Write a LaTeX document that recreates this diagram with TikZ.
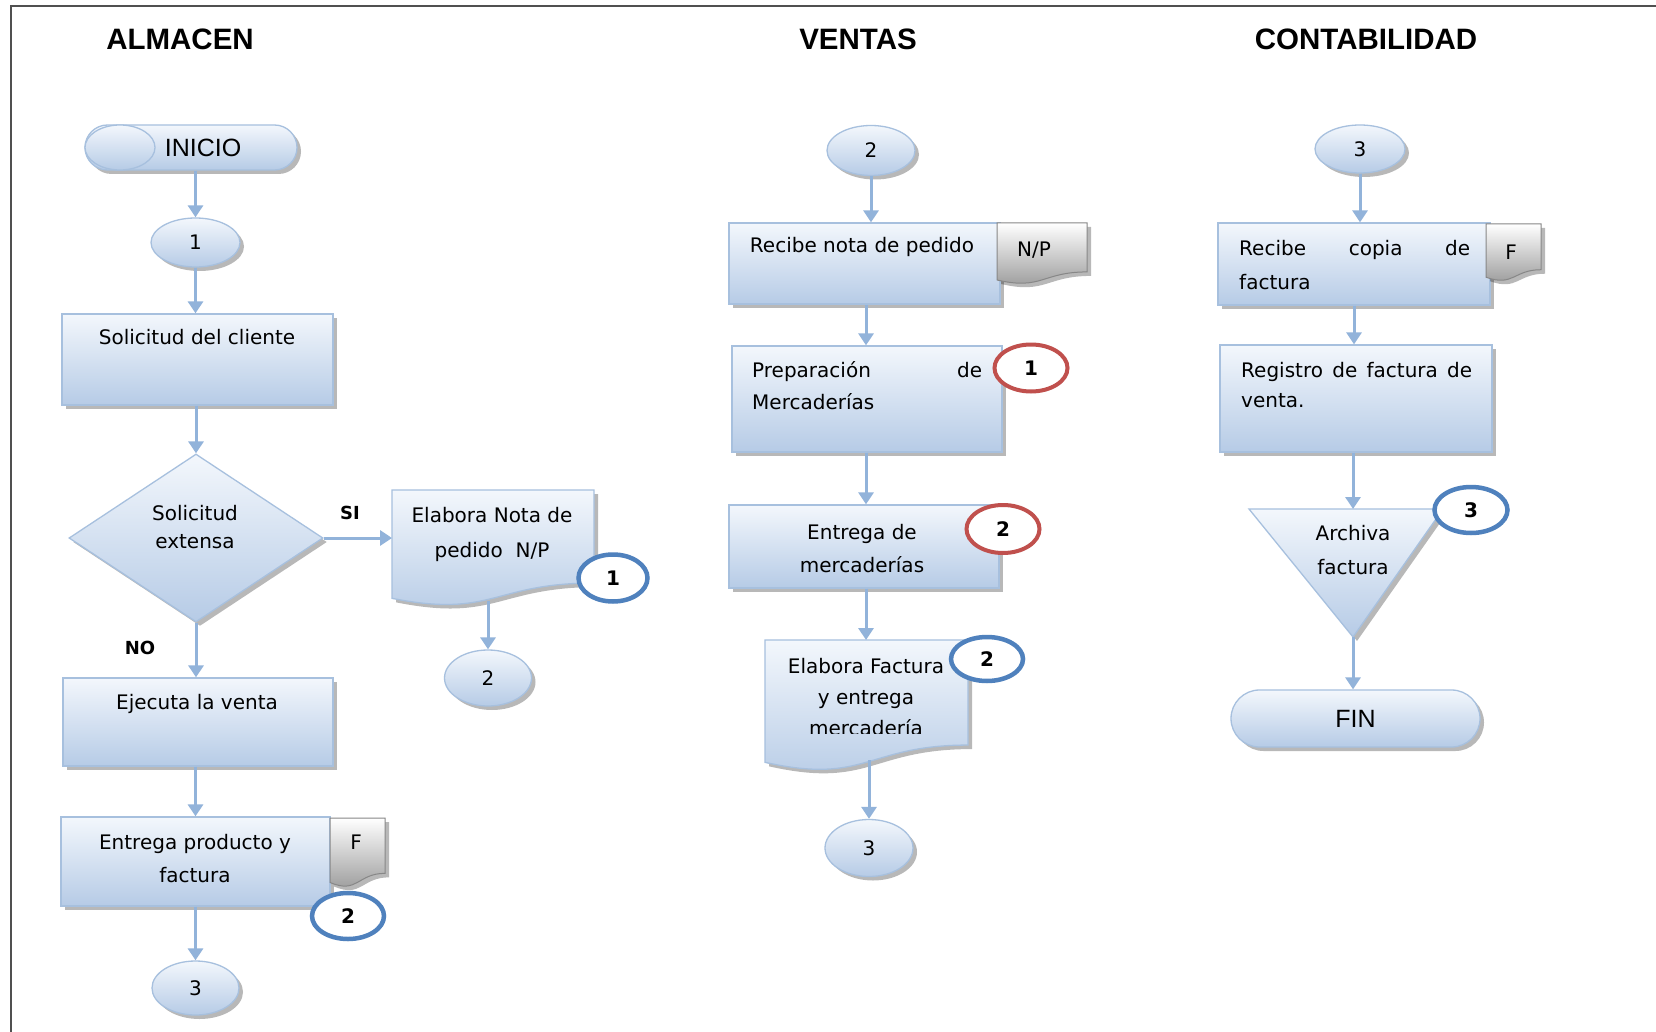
\documentclass[tikz,border=0pt]{standalone}
\usepackage{fontspec}
\setmainfont{DejaVu Sans}
\newfontfamily\arialf{Liberation Sans}
\usetikzlibrary{shapes.geometric,shapes.misc,shadows,arrows.meta}

\definecolor{arrowc}{RGB}{146,179,218}
\definecolor{boxline}{RGB}{167,192,222}
\definecolor{boxtop}{RGB}{243,247,252}
\definecolor{boxbot}{RGB}{182,203,230}
\definecolor{bluec}{RGB}{79,129,189}
\definecolor{redc}{RGB}{192,80,77}
\definecolor{framec}{RGB}{80,80,80}
\definecolor{docline}{RGB}{135,135,135}
\definecolor{docbot}{RGB}{150,150,150}

\newcommand\bodyf[1][32]{\fontsize{20}{#1}\selectfont}
\newcommand\tst{\rule{0pt}{17pt}}
\newcommand\docshape[5]{%
  \path[#5] (#1,#2) -- (#3,#2) -- (#3,{#2+0.802*#4})
    .. controls ({(#1+#3)/2},{#2+0.802*#4}) and ({(#1+#3)/2},{#2+1.107*#4}) .. (#1,{#2+0.934*#4}) -- cycle;}

\tikzset{
  shd/.style={drop shadow={shadow xshift=4pt,shadow yshift=-4pt,fill=black,opacity=0.28}},
  fillb/.style={draw=boxline, line width=1.3pt, top color=boxtop, bottom color=boxbot},
  procbox/.style={rectangle, fillb, shd, inner sep=0pt},
  conn/.style={ellipse, fillb, shd, inner sep=0pt, font=\fontsize{20}{24}\selectfont},
  term/.style={rounded rectangle, fillb, shd, inner sep=0pt},
  docbox/.style={draw=docline, line width=1pt, top color=white, bottom color=docbot, shd},
  refblue/.style={ellipse, draw=bluec, line width=4.5pt, fill=white, inner sep=0pt, font=\bfseries\fontsize{20}{24}\selectfont},
  refred/.style={refblue, draw=redc, line width=4pt},
  arr/.style={draw=arrowc, line width=3pt, -{Triangle[width=15pt,length=12pt]}},
  txt/.style={inner sep=0pt, anchor=north, align=center, font=\bodyf},
  ltxt/.style={inner sep=0pt, anchor=north west, align=left, font=\bodyf},
  ttl/.style={inner sep=0pt, font=\arialf\bfseries\fontsize{29.5}{34}\selectfont},
  yn/.style={inner sep=0pt, font=\bfseries\fontsize{18}{22}\selectfont},
  lbl/.style={inner sep=0pt, font=\bodyf},
}

\begin{document}
\begin{tikzpicture}[x=1pt,y=-1pt]
\useasboundingbox (0,0) rectangle (1656,1032);
\fill[white] (0,0) rectangle (1656,1032);
\draw[framec, line width=2pt] (1656,6) -- (11,6) -- (11,1032);

% titles
\node[ttl] (t-alm) at (180,39) {ALMACEN};
\node[ttl] (t-ven) at (858,39) {VENTAS};
\node[ttl] (t-con) at (1366,39) {CONTABILIDAD};

% ---------------- ALMACEN
\node[term, minimum width=212pt, minimum height=45pt] (inicio) at (191,147.5) {};
\path[fillb] (120,147.5) ellipse [x radius=35pt, y radius=22.5pt];
\node[inner sep=0pt, font=\arialf\fontsize{25}{30}\selectfont] (inicio-t) at (203,147.5) {INICIO};

\node[conn, minimum width=89pt, minimum height=49pt] (c1) at (195.5,242.5) {1};
\node[procbox, minimum width=271pt, minimum height=91pt] (sol) at (197.5,359.5) {};
\node[txt] (sol-t) at (197,327) {\tst Solicitud del cliente};

\node[diamond, fillb, shd, inner sep=0pt, minimum width=254pt, minimum height=168pt] (dia) at (196,538) {};
\node[txt, font={\bodyf[28]}] (dia-t) at (195,503) {\tst Solicitud\\extensa};
\node[yn] (si) at (350,513) {SI};
\node[yn] (no) at (140,648) {NO};

\docshape{392}{490}{594}{116}{fillb,shd}
\coordinate (ela1-w) at (392,535);
\coordinate (ela1-s) at (488,601);
\node[txt, font={\bodyf[35]}] (ela1-t) at (492,505) {\tst Elabora Nota de\\pedido\ \ N/P};
\node[refblue, minimum width=69pt, minimum height=47pt] (b1) at (613,578) {1};
\node[conn, minimum width=87pt, minimum height=56pt] (c2a) at (488,678) {2};

\node[procbox, minimum width=270pt, minimum height=88pt] (eje) at (198,722) {};
\node[txt] (eje-t) at (197,692) {\tst Ejecuta la venta};

\node[procbox, minimum width=269pt, minimum height=89pt] (ent) at (195.5,861.5) {};
\node[txt, font={\bodyf[33]}] (ent-t) at (195,832) {\tst Entrega producto y\\factura};
\docshape{330}{818}{385}{69}{docbox}
\node[lbl] (f1) at (356,842) {F};
\node[refblue, minimum width=72pt, minimum height=46pt] (b2) at (348,916) {2};
\node[conn, minimum width=87pt, minimum height=54pt] (c3a) at (195.5,988) {3};

% ---------------- VENTAS
\node[conn, minimum width=88pt, minimum height=50pt] (c2v) at (871,150.5) {2};
\node[procbox, minimum width=271pt, minimum height=81pt] (rec) at (864.5,263.5) {};
\node[txt] (rec-t) at (862,235) {\tst Recibe nota de pedido};
\docshape{997}{223}{1087}{61}{docbox}
\node[lbl] (np) at (1034,250) {N/P};

\node[procbox, minimum width=270pt, minimum height=106pt] (prep) at (867,399) {};
\node[ltxt, font={\bodyf[32]}] (prep-t) at (752,360) {\hbox to 230pt{\tst Preparación\hfill de}\\Mercaderías};
\node[refred, minimum width=73pt, minimum height=47pt] (r1) at (1031,368) {1};

\node[procbox, minimum width=270pt, minimum height=83pt] (entm) at (864,546.5) {};
\node[txt, font={\bodyf[33]}] (entm-t) at (862,522) {\tst Entrega de\\mercaderías};
\node[refred, minimum width=73pt, minimum height=48pt] (r2) at (1003,529) {2};

\docshape{765}{640}{968}{131}{fillb,shd}
\coordinate (elaf-n) at (866,640);
\coordinate (elaf-s) at (869,760);
\begin{scope}
\clip (760,640) rectangle (975,733);
\node[txt, font={\bodyf[31]}] (elaf-t) at (866,656) {\tst Elabora Factura\\y entrega\\mercadería};
\end{scope}
\node[refblue, minimum width=72pt, minimum height=44pt] (b2v) at (987,659) {2};
\node[conn, minimum width=88pt, minimum height=57pt] (c3v) at (869,848) {3};

% ---------------- CONTABILIDAD
\node[conn, minimum width=90pt, minimum height=48pt] (c3c) at (1360,149) {3};
\node[procbox, minimum width=272pt, minimum height=82pt] (rcp) at (1354,264) {};
\node[ltxt, font={\bodyf[34]}] (rcp-t) at (1239,238) {\hbox to 231pt{\tst Recibe\hfill copia\hfill de}\\factura};
\docshape{1486}{224}{1541}{57}{docbox}
\node[lbl] (fc) at (1511,252) {F};

\node[procbox, minimum width=272pt, minimum height=107pt] (reg) at (1356,398.5) {};
\node[ltxt, font={\bodyf[30]}] (reg-t) at (1241,360) {\hbox to 231pt{\tst Registro\hfill de\hfill factura\hfill de}\\venta.};

\path[fillb,shd] (1249,509) -- (1443,509) -- (1353,637) -- cycle;
\coordinate (tri-n) at (1353,509);
\coordinate (tri-s) at (1353,637);
\node[txt, font={\bodyf[34]}] (tri-t) at (1353,523) {\tst Archiva\\factura};
\node[refblue, minimum width=73pt, minimum height=46pt] (b3) at (1471,510) {3};

\node[term, minimum width=249pt, minimum height=57pt, font=\arialf\fontsize{25}{30}\selectfont] (fin) at (1355.5,718.5) {FIN};

% ---------------- connectors
\draw[arr] (inicio.south -| c1.north) -- (c1.north);
\draw[arr] (c1.south) -- (c1.south |- sol.north);
\draw[arr] (dia.north |- sol.south) -- (dia.north);
\draw[arr] (dia.east) -- (ela1-w |- dia.east);
\draw[arr] (ela1-s) -- (c2a.north);
\draw[arr] (dia.south) -- (dia.south |- eje.north);
\draw[arr] (c3a.north |- eje.south) -- (c3a.north |- ent.north);
\draw[arr] (c3a.north |- ent.south) -- (c3a.north);

\draw[arr] (c2v.south) -- (c2v.south |- rec.north);
\draw[arr] (elaf-n |- rec.south) -- (elaf-n |- prep.north);
\draw[arr] (elaf-n |- prep.south) -- (elaf-n |- entm.north);
\draw[arr] (elaf-n |- entm.south) -- (elaf-n);
\draw[arr] (elaf-s) -- (c3v.north);

\draw[arr] (c3c.south) -- (c3c.south |- rcp.north);
\draw[arr] (rcp.south) -- (rcp.south |- reg.north);
\draw[arr] (tri-n |- reg.south) -- (tri-n);
\draw[arr] (tri-s) -- (tri-s |- fin.north);
\end{tikzpicture}
\end{document}
